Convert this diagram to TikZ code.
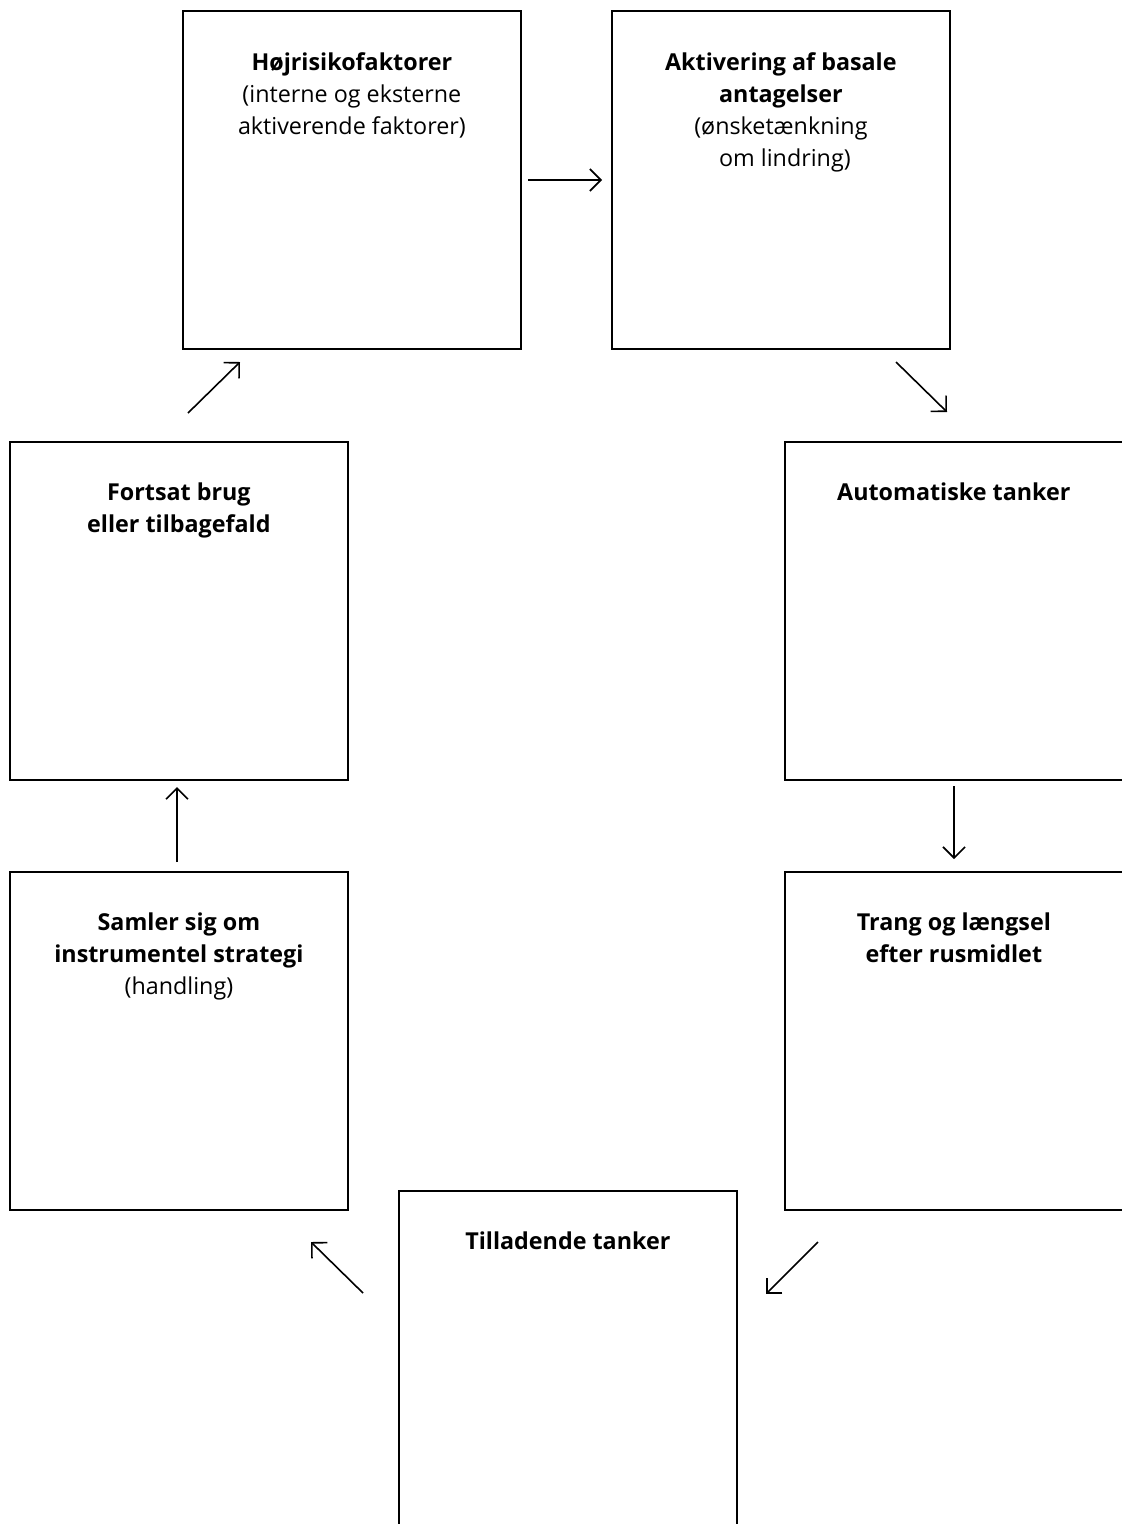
\documentclass[tikz,border=0pt]{standalone}
\usepackage{fontspec}
\setmainfont{Open Sans}
\usetikzlibrary{arrows.meta}
\begin{document}
\begin{tikzpicture}[x=1pt,y=-1pt,
  box/.style={draw=black,line width=1.8pt,minimum width=338pt,minimum height=338pt,inner sep=0pt,anchor=north west},
  lbl/.style={align=center,anchor=north,inner sep=0pt,font=\fontsize{23.3}{32}\selectfont},
  arr/.style={line width=1.6pt,-{Straight Barb[length=11pt,width=22pt,line width=1.6pt]}}]
\useasboundingbox (0,0) rectangle (1122,1524);
\clip (0,0) rectangle (1122,1524);
\node[box] (b1) at (182,10) {};
\node[box] (b2) at (611,10) {};
\node[box] (b3) at (784,441) {};
\node[box] (b4) at (784,871) {};
\node[box,minimum height=360pt] (b5) at (398,1190) {};
\node[box] (b6) at (9,871) {};
\node[box] (b7) at (9,441) {};
\node[lbl] (t1) at ([yshift=-42pt]b1.north) {\textbf{Højrisikofaktorer}\\(interne og eksterne\\aktiverende faktorer)};
\node[lbl] (t2) at ([yshift=-42pt]b2.north) {\textbf{Aktivering af basale}\\\textbf{antagelser}\\(ønsketænkning\\\hspace*{8pt}om lindring)};
\node[lbl] (t3) at ([yshift=-42pt]b3.north) {\textbf{Automatiske tanker}};
\node[lbl] (t4) at ([yshift=-42pt]b4.north) {\textbf{Trang og længsel}\\\textbf{efter rusmidlet}};
\node[lbl] (t5) at ([yshift=-42pt]b5.north) {\textbf{Tilladende tanker}};
\node[lbl] (t6) at ([yshift=-42pt]b6.north) {\textbf{Samler sig om}\\\textbf{instrumentel strategi}\\(handling)};
\node[lbl] (t7) at ([yshift=-42pt]b7.north) {\textbf{Fortsat brug}\\\textbf{eller tilbagefald}};
\coordinate (a1s) at (528,180); \coordinate (a1e) at (602,180);
\coordinate (a2s) at (896,362); \coordinate (a2e) at (947,412);
\coordinate (a3s) at (954,786); \coordinate (a3e) at (954,859);
\coordinate (a4s) at (818,1242); \coordinate (a4e) at (766,1294);
\coordinate (a5s) at (363,1293); \coordinate (a5e) at (311,1242);
\coordinate (a6s) at (177,862); \coordinate (a6e) at (177,787);
\coordinate (a7s) at (188,413); \coordinate (a7e) at (240,362);
\draw[arr] (a1s) -- (a1e);
\draw[arr] (a2s) -- (a2e);
\draw[arr] (a3s) -- (a3e);
\draw[arr] (a4s) -- (a4e);
\draw[arr] (a5s) -- (a5e);
\draw[arr] (a6s) -- (a6e);
\draw[arr] (a7s) -- (a7e);
\end{tikzpicture}
\end{document}
